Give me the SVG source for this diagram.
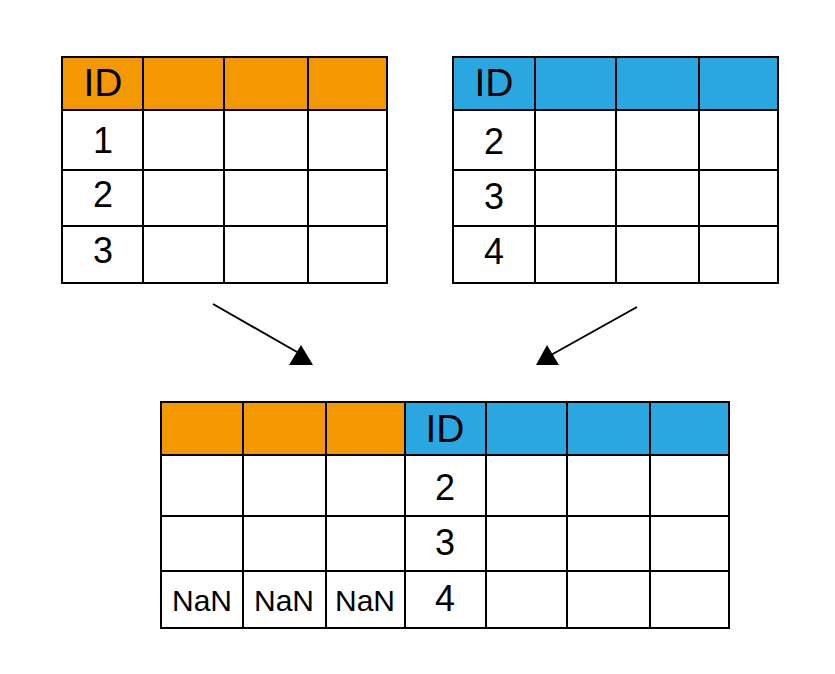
<svg xmlns="http://www.w3.org/2000/svg" width="835" height="674" viewBox="0 0 835 674">
<style>
.o{fill:#F39800}
.b{fill:#2AA7E0}
.w{fill:#FFFFFF}
.g{stroke:#000;stroke-width:2;fill:none}
.t{font-family:"Liberation Sans",Arial,sans-serif;font-size:36px;fill:#000;text-anchor:middle}
.h{font-size:39px}
.n{font-family:"Liberation Sans",Arial,sans-serif;font-size:30px;fill:#000;text-anchor:middle}
.c{stroke:#000;stroke-width:2;fill:none}
</style>
<rect width="835" height="674" fill="#fff"/>
<g id="left-table">
<rect class="o" x="62" y="57" width="325" height="53"/>
<rect class="w" x="62" y="110" width="325" height="173"/>
<path class="g" d="M62 57H387V283H62Z M62 110H387 M62 170H387 M62 226H387 M143 57V283 M224 57V283 M308 57V283"/>
<text class="t h" x="103" y="96">ID</text>
<text class="t" x="103" y="153">1</text>
<text class="t" x="103" y="207">2</text>
<text class="t" x="103" y="263">3</text>
</g>
<g id="right-table">
<rect class="b" x="453" y="57" width="325" height="53"/>
<rect class="w" x="453" y="110" width="325" height="173"/>
<path class="g" d="M453 57H778V283H453Z M453 110H778 M453 170H778 M453 226H778 M535 57V283 M616 57V283 M699 57V283"/>
<text class="t h" x="494" y="96">ID</text>
<text class="t" x="494" y="154">2</text>
<text class="t" x="494" y="209">3</text>
<text class="t" x="494" y="264">4</text>
</g>
<g id="result-table">
<rect class="o" x="161" y="402" width="244" height="53"/>
<rect class="b" x="405" y="402" width="324" height="53"/>
<rect class="w" x="161" y="455" width="568" height="173"/>
<path class="g" d="M161 402H729V628H161Z M161 455H729 M161 516H729 M161 571H729 M243 402V628 M326 402V628 M405 402V628 M486 402V628 M567 402V628 M650 402V628"/>
<text class="t h" x="445" y="442">ID</text>
<text class="t" x="445" y="500">2</text>
<text class="t" x="445" y="555">3</text>
<text class="t" x="445" y="611">4</text>
<text class="n" x="202" y="611">NaN</text>
<text class="n" x="284" y="611">NaN</text>
<text class="n" x="365" y="611">NaN</text>
</g>
<g id="connectors">
<line class="c" x1="213" y1="304" x2="297" y2="352"/>
<polygon points="301,345 289,365 313,365" fill="#000"/>
<line class="c" x1="637" y1="307" x2="551" y2="355"/>
<polygon points="547,345 536,365 559,365" fill="#000"/>
</g>
</svg>
